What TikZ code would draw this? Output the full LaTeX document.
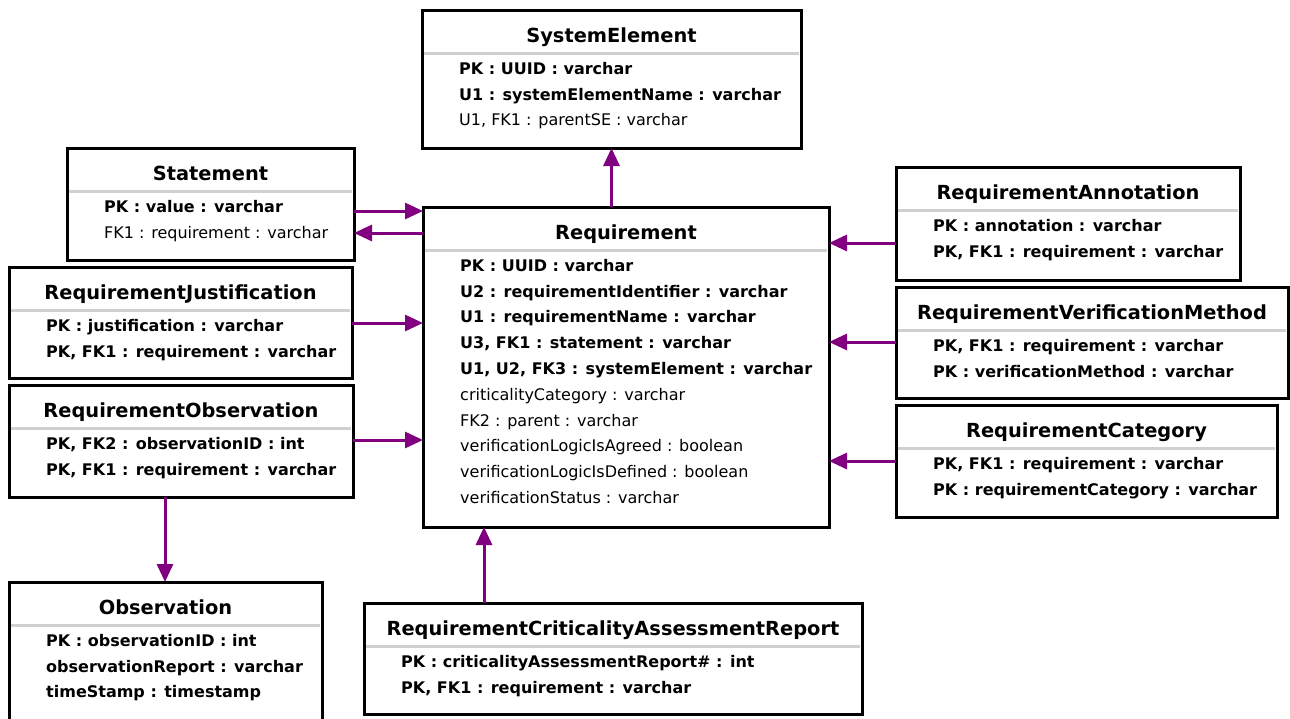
\documentclass[tikz,border=0pt]{standalone}
\usepackage{fontspec}
\setmainfont{DejaVu Sans}
\usetikzlibrary{arrows.meta,calc}

\definecolor{fkpurple}{RGB}{128,0,128}
\definecolor{sepgray}{RGB}{208,208,208}

\tikzset{
  ebox/.style={draw=black, line width=3pt, fill=white, inner sep=0pt, outer sep=0pt},
  etitle/.style={anchor=base, inner sep=0pt, font=\fontsize{19.4}{22}\selectfont\bfseries},
  esep/.style={draw=sepgray, line width=3pt},
  rowb/.style={anchor=base west, inner sep=0pt, font=\fontsize{16}{19}\selectfont\bfseries},
  rown/.style={anchor=base west, inner sep=0pt, font=\fontsize{16}{19}\selectfont},
  fk/.style={draw=fkpurple, line width=3pt, -{Triangle[length=18pt,width=16pt]}},
}

% table box: name, left, top, right, bottom, title
\newcommand\entity[6]{%
  \node[ebox, anchor=north west, minimum width={(#4-#2)*1pt}, minimum height={(#5-#3)*1pt}] (#1) at (#2,#3) {};
  \node[etitle] (#1-t) at ({(#2+#4)/2},{#3+32}) {#6};
  \draw[esep] ($(#1.north west)+(2,43)$) -- ($(#1.north east)+(-2,43)$);
}
% attribute line: table, index, style, text
\newcommand\erow[4]{%
  \node[#3] (#1-r#2) at ($(#1.north west)+(37,{64.3+25.8*(#2-1)})$) {#4};
}

\begin{document}
\begin{tikzpicture}[x=1pt,y=-1pt]
\useasboundingbox (0,0) rectangle (1290,718);

% ---- tables ----
\entity{se}{422}{10}{801}{148}{SystemElement}
\erow{se}{1}{rowb}{PK : UUID : varchar}
\erow{se}{2}{rowb}{U1 : systemElementName : varchar}
\erow{se}{3}{rown}{U1, FK1 : parentSE : varchar}

\entity{st}{67}{148}{354}{260}{Statement}
\erow{st}{1}{rowb}{PK : value : varchar}
\erow{st}{2}{rown}{FK1 : requirement : varchar}

\entity{req}{423}{207}{829}{527}{Requirement}
\erow{req}{1}{rowb}{PK : UUID : varchar}
\erow{req}{2}{rowb}{U2 : requirementIdentifier : varchar}
\erow{req}{3}{rowb}{U1 : requirementName : varchar}
\erow{req}{4}{rowb}{U3, FK1 : statement : varchar}
\erow{req}{5}{rowb}{U1, U2, FK3 : systemElement : varchar}
\erow{req}{6}{rown}{criticalityCategory : varchar}
\erow{req}{7}{rown}{FK2 : parent : varchar}
\erow{req}{8}{rown}{verificationLogicIsAgreed : boolean}
\erow{req}{9}{rown}{verificationLogicIsDefined : boolean}
\erow{req}{10}{rown}{verificationStatus : varchar}

\entity{jus}{9}{267}{352}{378}{RequirementJustification}
\erow{jus}{1}{rowb}{PK : justification : varchar}
\erow{jus}{2}{rowb}{PK, FK1 : requirement : varchar}

\entity{ro}{9}{385}{353}{497}{RequirementObservation}
\erow{ro}{1}{rowb}{PK, FK2 : observationID : int}
\erow{ro}{2}{rowb}{PK, FK1 : requirement : varchar}

\entity{obs}{9}{582}{322}{732}{Observation}
\erow{obs}{1}{rowb}{PK : observationID : int}
\erow{obs}{2}{rowb}{observationReport : varchar}
\erow{obs}{3}{rowb}{timeStamp : timestamp}

\entity{ann}{896}{167}{1240}{280}{RequirementAnnotation}
\erow{ann}{1}{rowb}{PK : annotation : varchar}
\erow{ann}{2}{rowb}{PK, FK1 : requirement : varchar}

\entity{vm}{896}{287}{1288}{398}{RequirementVerificationMethod}
\erow{vm}{1}{rowb}{PK, FK1 : requirement : varchar}
\erow{vm}{2}{rowb}{PK : verificationMethod : varchar}

\entity{cat}{896}{405}{1277}{517}{RequirementCategory}
\erow{cat}{1}{rowb}{PK, FK1 : requirement : varchar}
\erow{cat}{2}{rowb}{PK : requirementCategory : varchar}

\entity{car}{364}{603}{862}{714}{RequirementCriticalityAssessmentReport}
\erow{car}{1}{rowb}{PK : criticalityAssessmentReport\# : int}
\erow{car}{2}{rowb}{PK, FK1 : requirement : varchar}

% ---- foreign-key references ----
\draw[fk] (se.south |- req.north) -- (se.south);
\draw[fk] (st.east |- 0,211) -- (req.west |- 0,211);
\draw[fk] (req.west |- 0,233) -- (st.east |- 0,233);
\draw[fk] (jus.east |- 0,323) -- (req.west |- 0,323);
\draw[fk] (ro.east |- 0,440) -- (req.west |- 0,440);
\draw[fk] (ro.south -| 165,0) -- (obs.north -| 165,0);
\draw[fk] (ann.west |- 0,243) -- (req.east |- 0,243);
\draw[fk] (vm.west |- 0,342) -- (req.east |- 0,342);
\draw[fk] (cat.west |- 0,461) -- (req.east |- 0,461);
\draw[fk] (car.north -| 484,0) -- (req.south -| 484,0);
\end{tikzpicture}
\end{document}
